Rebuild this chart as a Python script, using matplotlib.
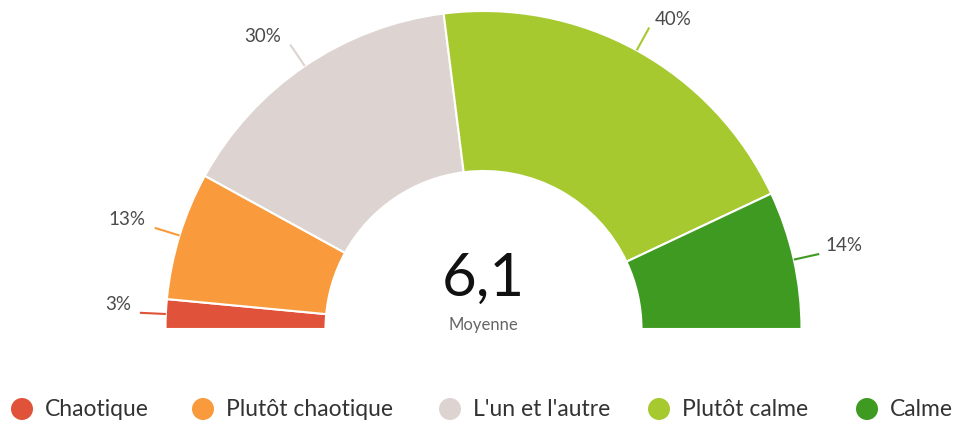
import numpy as np
import matplotlib.pyplot as plt
from matplotlib.patches import Wedge, Circle

plt.rcParams['font.family'] = ['Lato', 'DejaVu Sans']

# data
categories = ["Chaotique", "Plutôt chaotique", "L'un et l'autre", "Plutôt calme", "Calme"]
shares = [3, 13, 30, 40, 14]
colors = ["#e0533a", "#f99b3c", "#ddd4d1", "#a7c930", "#3f9a22"]
mean_value = "6,1"
mean_label = "Moyenne"

fig = plt.figure(figsize=(9.61, 4.23), dpi=100)
ax = fig.add_axes([0, 0, 1, 1])
ax.set_xlim(0, 961)
ax.set_ylim(423, 0)
ax.axis("off")

cx, cy = 483.5, 329
r_out, r_in = 318, 158
total = sum(shares)

cum = 0
for name, v, c in zip(categories, shares, colors):
    a0 = 180 + 180 * cum / total
    a1 = 180 + 180 * (cum + v) / total
    ax.add_patch(Wedge((cx, cy), r_out, a0, a1, width=r_out - r_in,
                       facecolor=c, edgecolor="white", linewidth=1.5))
    # connector + label
    mid = np.radians((a0 + a1) / 2)
    dx, dy = np.cos(mid), np.sin(mid)
    x0, y0 = cx + r_out * dx, cy + r_out * dy
    x1, y1 = cx + (r_out + 26) * dx, cy + (r_out + 26) * dy
    ax.plot([x0, x1], [y0, y1], color=c, lw=1.5, solid_capstyle="butt")
    if dx < 0:
        ax.text(x1 - 9, y1 - 8, f"{v}%", ha="right", va="center",
                fontsize=13.5, color="#4a4a4a")
    else:
        ax.text(x1 + 6, y1 - 8, f"{v}%", ha="left", va="center",
                fontsize=13.5, color="#4a4a4a")
    cum += v

ax.text(cx, 279, mean_value, ha="center", va="center", fontsize=43, color="#111111")
ax.text(cx, 325, mean_label, ha="center", va="center", fontsize=12, color="#666666")

# legend
leg_x = [22, 203, 450, 659, 867]
for x, name, c in zip(leg_x, categories, colors):
    ax.add_patch(Circle((x, 409), 11, facecolor=c, edgecolor="none"))
    ax.text(x + 23, 409, name, ha="left", va="center", fontsize=16.5, color="#333333")

fig.savefig("out.png", dpi=100)
